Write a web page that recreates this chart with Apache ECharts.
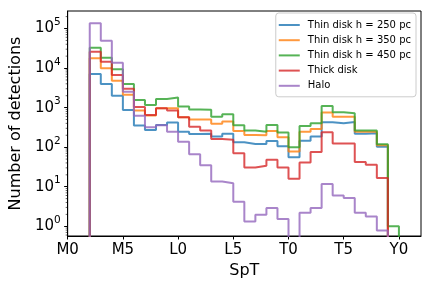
<!DOCTYPE html>
<html><head><meta charset="utf-8">
<script src="https://cdn.jsdelivr.net/npm/echarts@6/dist/echarts.min.js"></script>
<style>html,body{margin:0;padding:0;background:#fff}#c{width:432px;height:288px}</style>
</head><body><div id="c"></div>
<script>
// Bin edges in SpT units (0 = M0, 10 = L0, 20 = T0, 30 = Y0)
const binEdges = [2,3,4,5,6,7,8,9,10,11,12,13,14,15,16,17,18,19,20,21,22,23,24,25,26,27,28,29,30];
const tickValues = [0,5,10,15,20,25,30];
const tickLabels = ['M0','M5','L0','L5','T0','T5','Y0'];
const seriesNames = ['Thin disk h = 250 pc','Thin disk h = 350 pc','Thin disk h = 450 pc','Thick disk','Halo'];
const thin250 = [7100,3970,2000,875,355,273,366,418,247,215,217,185,217,134,121,120,144,105,56,145,187,425,404,430,217,225,103,0];
const thin350 = [17700,9900,4800,2100,850,630,966,966,570,500,500,390,445,256,204,200,256,178,78,247,290,750,590,590,247,247,112,0];
const thin450 = [32700,18300,9300,3970,1560,1170,1660,1790,1060,890,880,590,680,360,265,247,366,234,99,345,404,1100,760,720,262,262,119,1];
const thick = [25900,14500,6700,3000,1040,655,966,850,570,330,265,160,155,70,30.5,34,48,30.5,16,41,76,237,124,124,42,36,16.5,0];
const halo = [135000,49000,13700,2500,625,320,360,247,138,66,35,13.5,12.3,4.2,1.32,1.95,2.9,1.52,0,2.2,2.9,11.8,6.0,5.2,2.2,1.77,0.78,0];
const colors = ['rgba(31,119,180,0.8)','rgba(255,127,14,0.8)','rgba(44,160,44,0.8)','rgba(214,39,40,0.8)','rgba(148,103,189,0.8)'];

const Y_MIN = 0.568, Y_MAX = 2.77e5;
const FLOOR = 1e-3; // empty bins fall below the axis, as on a log plot
const FONT = 'DejaVu Sans';

function stepPoints(vals) {
  const pts = [[binEdges[0], FLOOR]];
  for (let i = 0; i < vals.length; i++) {
    const v = vals[i] > 0 ? vals[i] : FLOOR;
    pts.push([binEdges[i], v], [binEdges[i + 1], v]);
  }
  pts.push([binEdges[binEdges.length - 1], FLOOR]);
  return pts;
}

const minorTickVals = [];
for (let e = -1; e <= 5; e++) for (let m = 2; m <= 9; m++) {
  const v = m * Math.pow(10, e);
  if (v > Y_MIN && v < Y_MAX) minorTickVals.push([0, v]);
}

const allData = [thin250, thin350, thin450, thick, halo];
const series = allData.map((d, i) => ({
  name: seriesNames[i], type: 'line', data: stepPoints(d), symbol: 'none',
  clip: true, color: colors[i],
  lineStyle: { width: 2, color: colors[i] }, itemStyle: { color: colors[i] }
}));
series.push({
  type: 'custom', silent: true, data: minorTickVals, clip: false,
  renderItem: (params, api) => {
    const p = api.coord([api.value(0), api.value(1)]);
    return { type: 'line', shape: { x1: p[0] - 2, y1: p[1], x2: p[0], y2: p[1] },
      style: { stroke: '#000', lineWidth: 0.6 } };
  }
});

const chart = echarts.init(document.getElementById('c'), null, { renderer: 'canvas' });
chart.setOption({
  animation: false,
  backgroundColor: '#fff',
  grid: { left: 66, right: 11, top: 11, bottom: 52, show: true, borderColor: '#000', borderWidth: 1 },
  legend: {
    data: seriesNames, orient: 'vertical', right: 16, top: 13,
    icon: 'rect', itemWidth: 21, itemHeight: 2, itemGap: 3.2,
    textStyle: { fontSize: 10, fontFamily: FONT, color: '#000', lineHeight: 12, padding: [0, 0, 0, 3] },
    padding: [6, 5, 5, 3], borderColor: '#cccccc', borderWidth: 1, borderRadius: 3,
    backgroundColor: 'rgba(255,255,255,0.8)'
  },
  xAxis: {
    type: 'value', min: 0, max: 32, interval: 5,
    name: 'SpT', nameLocation: 'middle', nameGap: 18,
    nameTextStyle: { fontSize: 16, fontFamily: FONT, color: '#000' },
    axisLine: { lineStyle: { color: '#000', width: 1 } },
    axisTick: { length: 3.5, lineStyle: { color: '#000' } },
    splitLine: { show: false },
    axisLabel: {
      fontSize: 15, fontFamily: FONT, color: '#000', margin: 7, showMaxLabel: false,
      formatter: v => { const k = tickValues.indexOf(v); return k >= 0 ? tickLabels[k] : ''; }
    }
  },
  yAxis: {
    type: 'log', logBase: 10, min: Y_MIN, max: Y_MAX,
    name: 'Number of detections', nameLocation: 'middle', nameGap: 40,
    nameTextStyle: { fontSize: 16, fontFamily: FONT, color: '#000' },
    axisLine: { lineStyle: { color: '#000', width: 1 } },
    axisTick: { length: 3.5, lineStyle: { color: '#000' } },
    splitLine: { show: false },
    axisLabel: {
      margin: 7, showMinLabel: false, showMaxLabel: false,
      formatter: v => {
        const l = Math.log10(v), e = Math.round(l);
        if (Math.abs(l - e) > 1e-6) return '';
        return '{b|10}{s|' + e + '}';
      },
      rich: {
        b: { fontSize: 15, fontFamily: FONT, color: '#000', lineHeight: 15, verticalAlign: 'bottom' },
        s: { fontSize: 10.5, fontFamily: FONT, color: '#000', lineHeight: 10.5, padding: [0, 0, 8, 0], verticalAlign: 'bottom' }
      }
    }
  },
  series: series
});
</script></body></html>
